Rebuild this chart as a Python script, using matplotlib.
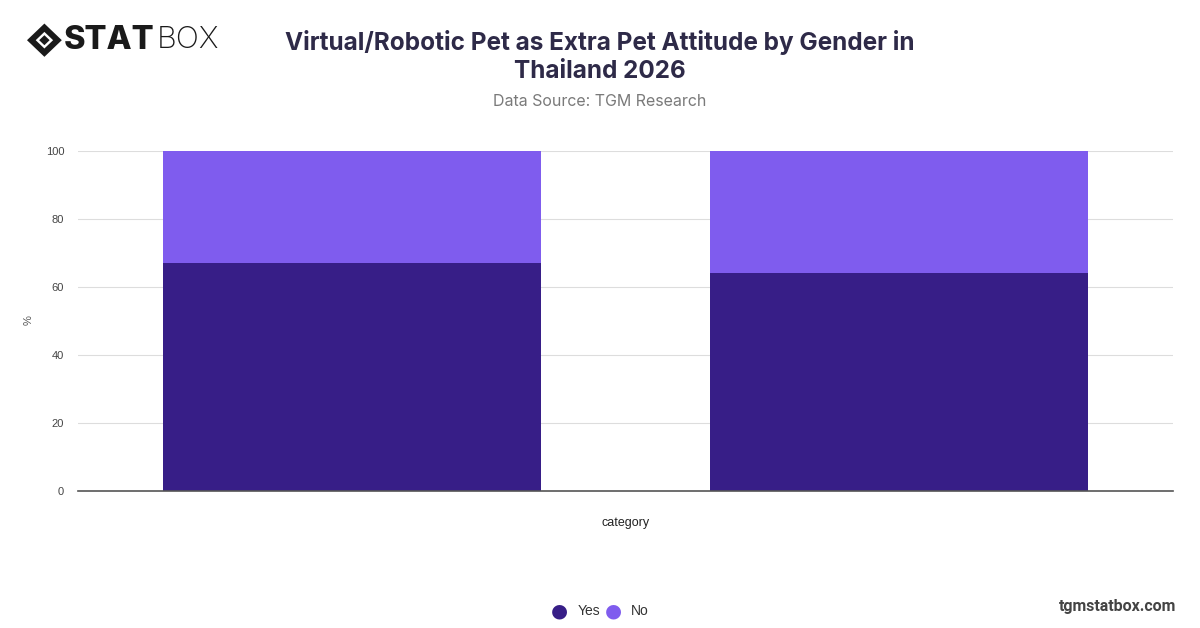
import numpy as np
import matplotlib.pyplot as plt
from matplotlib.patches import Polygon

# =========================================================
# Data
# =========================================================

categories = ["Male", "Female"]
yes_values = [67, 64]
no_values = [33, 36]
series_names = ["Yes", "No"]
y_ticks = [0, 20, 40, 60, 80, 100]

YES_COLOR = "#371E87"
NO_COLOR = "#7F5CEE"

# =========================================================
# Plot
# =========================================================

fig = plt.figure(figsize=(12, 6.28), dpi=100)
ax = fig.add_axes([0.065, 0.218, 0.9125, 0.542])

x = np.arange(len(categories))
ax.bar(x, yes_values, width=0.69, color=YES_COLOR, zorder=3)
ax.bar(x, no_values, width=0.69, bottom=yes_values, color=NO_COLOR, zorder=3)

ax.set_xlim(-0.5, 1.5)
ax.set_ylim(0, 100)
ax.set_yticks(y_ticks)
ax.set_yticklabels([str(t) for t in y_ticks], fontsize=8, color="#444444",
                   family="Liberation Sans")
ax.set_xticks([])
ax.tick_params(axis="y", length=0, pad=10)
ax.grid(axis="y", color="#dddddd", linewidth=0.8, zorder=0)
for side in ["top", "right", "left"]:
    ax.spines[side].set_visible(False)
ax.spines["bottom"].set_color("#555555")
ax.spines["bottom"].set_linewidth(1.2)
ax.spines["bottom"].set_zorder(4)

ax.set_xlabel("category", fontsize=9, color="#222222", family="Liberation Sans", labelpad=19)
fig.text(0.024, 0.49, "%", rotation=90, ha="center", va="center", fontsize=8,
         color="#555555", family="Liberation Sans")

# title and subtitle
fig.text(0.5, 0.91, "Virtual/Robotic Pet as Extra Pet Attitude by Gender in\nThailand 2026",
         ha="center", va="center", fontsize=17.5, fontweight="bold", color="#2E2A48",
         family="Inter", linespacing=1.3)
fig.text(0.5, 0.838, "Data Source: TGM Research", ha="center", va="center",
         fontsize=11.5, color="#7a7a7a", family="Inter")

# logo
cx, cy = 0.037, 0.936
dx, dy = 0.0145, 0.0265
fig.patches.append(Polygon([[cx - dx, cy], [cx, cy + dy], [cx + dx, cy], [cx, cy - dy]],
                           closed=True, transform=fig.transFigure, facecolor="#1a1a1a"))
fig.patches.append(Polygon([[cx - dx * 0.5, cy], [cx, cy + dy * 0.5], [cx + dx * 0.5, cy],
                            [cx, cy - dy * 0.5]],
                           closed=True, transform=fig.transFigure, facecolor="white"))
fig.patches.append(Polygon([[cx - dx * 0.3, cy], [cx, cy + dy * 0.3], [cx + dx * 0.3, cy],
                            [cx, cy - dy * 0.3]],
                           closed=True, transform=fig.transFigure, facecolor="#1a1a1a"))
fig.text(0.053, 0.936, "STAT", ha="left", va="center", fontsize=23.5, fontweight="heavy",
         color="#1a1a1a", family="Inter")
fig.text(0.1305, 0.936, "BOX", ha="left", va="center", fontsize=22, fontweight="light",
         color="#1a1a1a", family="Inter")

# legend
legend_x = [0.466, 0.511]
for lx, name, col in zip(legend_x, series_names, [YES_COLOR, NO_COLOR]):
    fig.text(lx, 0.027, "●", ha="center", va="center", fontsize=14, color=col,
             family="DejaVu Sans")
    fig.text(lx + 0.015, 0.027, name, ha="left", va="center", fontsize=10,
             color="#333333", family="Liberation Sans")

fig.text(0.98, 0.034, "tgmstatbox.com", ha="right", va="center", fontsize=11.5,
         fontweight="bold", color="#444444", family="Roboto")

plt.savefig("out.png", dpi=100)
